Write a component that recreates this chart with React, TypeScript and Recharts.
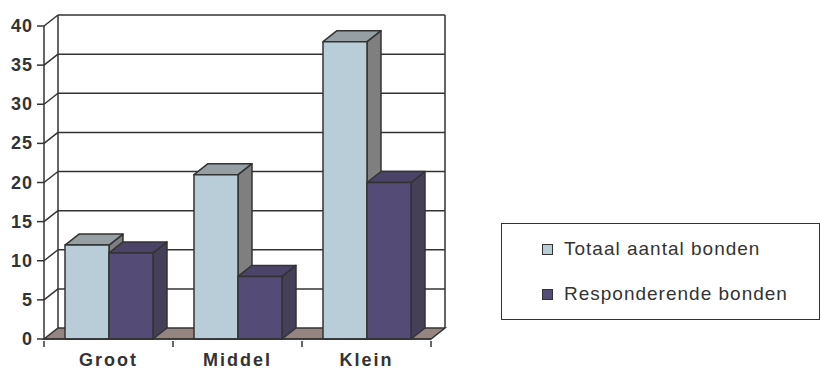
import React from 'react';
import { BarChart, Bar, XAxis, YAxis, CartesianGrid } from 'recharts';

const categorieen = ['Groot', 'Middel', 'Klein'];
const totaalAantal = [12, 21, 38];
const responderend = [11, 8, 20];
const yTicks = [0, 5, 10, 15, 20, 25, 30, 35, 40];
const reeksNamen = ['Totaal aantal bonden', 'Responderende bonden'];

const data = categorieen.map((naam, i) => ({
  naam,
  totaal: totaalAantal[i],
  respons: responderend[i],
}));

// diepte van het 3D-effect
const DX = 14;
const DY = 11;
const LIJN = '#333333';

const kleuren = {
  totaal: { front: '#b9cdd8', top: '#959fa4', side: '#7f7f7f' },
  respons: { front: '#544c77', top: '#4b4468', side: '#453f57' },
};

function Blok(props: any, kleur: { front: string; top: string; side: string }) {
  const { x, y, width, height } = props;
  if (width == null || height == null) return <g />;
  const r = x + width;
  const b = y + height;
  return (
    <g stroke={LIJN} strokeWidth={1.5} strokeLinejoin="round">
      <polygon points={`${r},${y} ${r + DX},${y - DY} ${r + DX},${b - DY} ${r},${b}`} fill={kleur.side} />
      <polygon points={`${x},${y} ${x + DX},${y - DY} ${r + DX},${y - DY} ${r},${y}`} fill={kleur.top} />
      <rect x={x} y={y} width={width} height={height} fill={kleur.front} />
    </g>
  );
}

function GridLijn(props: any) {
  const { x1, y1, x2, index, y, height } = props;
  const onder = Math.abs(y1 - (y + height)) < 0.5;
  const boven = Math.abs(y1 - y) < 0.5;
  return (
    <g key={`gl-${index}`} stroke={LIJN} strokeWidth={1.5} fill="none">
      {onder ? (
        <polygon
          points={`${x1},${y1} ${x2},${y1} ${x2 + DX},${y1 - DY} ${x1 + DX},${y1 - DY}`}
          fill="#948580"
        />
      ) : (
        <>
          <line x1={x1 + DX} y1={y1 - DY} x2={x2 + DX} y2={y1 - DY} />
          <line x1={x1} y1={y1} x2={x1 + DX} y2={y1 - DY} />
        </>
      )}
      {boven && (
        <>
          <line x1={x1 + DX} y1={y - DY} x2={x1 + DX} y2={y + height - DY} />
          <line x1={x2 + DX} y1={y - DY} x2={x2 + DX} y2={y + height - DY} />
        </>
      )}
    </g>
  );
}

function XTick(props: any) {
  const { x, y, payload, index } = props;
  const half = payload.offset || 0;
  return (
    <g>
      <line x1={x - half} y1={y} x2={x - half} y2={y + 6} stroke={LIJN} strokeWidth={1.5} />
      {index === categorieen.length - 1 && (
        <line x1={x + half} y1={y} x2={x + half} y2={y + 6} stroke={LIJN} strokeWidth={1.5} />
      )}
      <text
        x={x}
        y={y + 25}
        textAnchor="middle"
        fill={LIJN}
        fontFamily="Liberation Sans, Arial, sans-serif"
        fontWeight="bold"
        fontSize={18}
        letterSpacing={2}
      >
        {payload.value}
      </text>
    </g>
  );
}

function YTick(props: any) {
  const { x, y, payload } = props;
  return (
    <text
      x={x}
      y={y}
      textAnchor="end"
      dominantBaseline="central"
      fill={LIJN}
      fontFamily="Liberation Sans, Arial, sans-serif"
      fontWeight="bold"
      fontSize={18}
      letterSpacing={1}
    >
      {payload.value}
    </text>
  );
}

function Legenda() {
  const items = [
    { naam: reeksNamen[0], kleur: kleuren.totaal.front },
    { naam: reeksNamen[1], kleur: kleuren.respons.front },
  ];
  return (
    <div
      style={{
        position: 'absolute',
        left: 501,
        top: 223,
        width: 319,
        height: 97,
        border: `1px solid ${LIJN}`,
        background: '#fff',
        boxSizing: 'border-box',
        fontFamily: 'Liberation Sans, Arial, sans-serif',
        fontSize: 19,
        letterSpacing: 1,
        color: '#333',
        paddingLeft: 40,
        paddingTop: 13,
      }}
    >
      {items.map((item) => (
        <div key={item.naam} style={{ display: 'flex', alignItems: 'center', height: 24, marginBottom: 21 }}>
          <span
            style={{
              display: 'inline-block',
              width: 9,
              height: 9,
              background: item.kleur,
              border: `1px solid ${LIJN}`,
              marginRight: 11,
            }}
          />
          {item.naam}
        </div>
      ))}
    </div>
  );
}

export default function App() {
  return (
    <div style={{ position: 'absolute', left: 0, top: 0, width: 821, height: 371, background: '#fff' }}>
      <BarChart
        width={821}
        height={371}
        data={data}
        margin={{ top: 26, right: 390, bottom: 0, left: 0 }}
        barGap={0}
        barCategoryGap={21}
      >
        <CartesianGrid vertical={false} horizontal={GridLijn} />
        <XAxis
          dataKey="naam"
          height={32}
          axisLine={{ stroke: LIJN, strokeWidth: 1.5 }}
          tickLine={false}
          tickSize={0}
          tick={<XTick />}
          interval={0}
        />
        <YAxis
          width={44}
          domain={[0, 40]}
          ticks={yTicks}
          interval={0}
          axisLine={{ stroke: LIJN, strokeWidth: 1.5 }}
          tickLine={{ stroke: LIJN, strokeWidth: 1.5 }}
          tickSize={7}
          tickMargin={4}
          tick={<YTick />}
        />
        <Bar
          dataKey="totaal"
          name={reeksNamen[0]}
          fill={kleuren.totaal.front}
          isAnimationActive={false}
          shape={(p: any) => Blok(p, kleuren.totaal)}
        />
        <Bar
          dataKey="respons"
          name={reeksNamen[1]}
          fill={kleuren.respons.front}
          isAnimationActive={false}
          shape={(p: any) => Blok(p, kleuren.respons)}
        />
      </BarChart>
      <Legenda />
    </div>
  );
}
